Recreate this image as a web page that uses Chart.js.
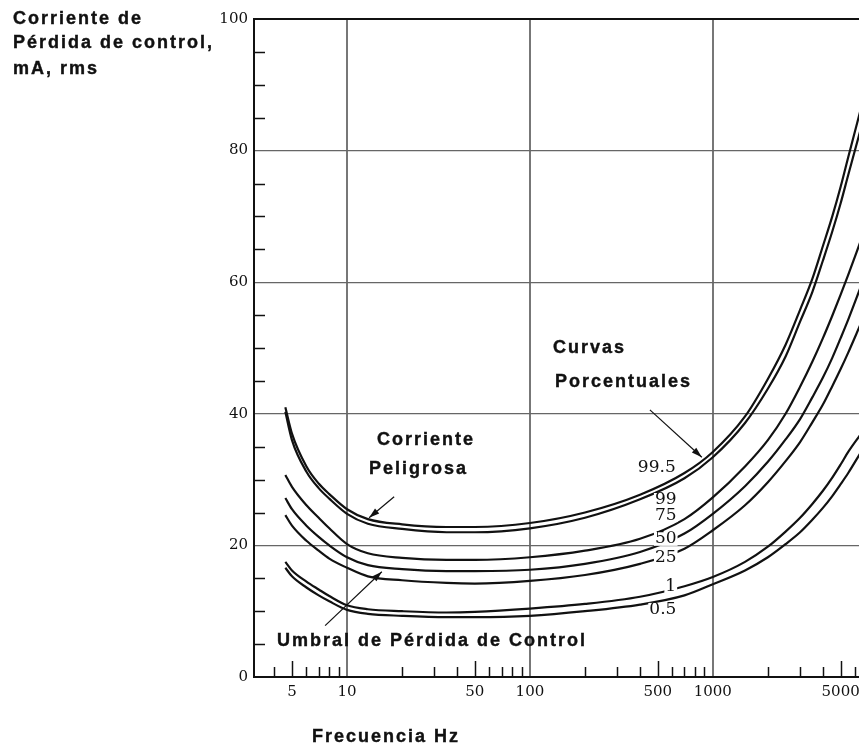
<!DOCTYPE html>
<html>
<head>
<meta charset="utf-8">
<title>Corriente de Pérdida de control</title>
<script src="https://cdn.jsdelivr.net/npm/chart.js@4.4.1/dist/chart.umd.min.js"></script>
<style>
  html, body { margin: 0; padding: 0; background: #fff; }
  #wrap { position: relative; width: 859px; height: 745px; }
</style>
</head>
<body>
<div id="wrap"><canvas id="myChart" width="859" height="745"></canvas></div>
<script>
// frequencies (Hz) where the curves were read
var freqs = [4.6, 5, 6, 7, 8, 10, 13, 20, 35, 50, 100, 200, 400, 700, 1000, 1500, 2000, 2500, 3000, 3500, 4000, 4500, 5000, 5500, 6400];

// current (mA rms) for each percentile curve
var p995 = [41, 37, 32, 29.4, 27.8, 25.5, 24, 23.2, 22.8, 22.8, 23.4, 25, 27.7, 31, 34.2, 39.6, 45.3, 50.5, 55.8, 60.5, 65.5, 70, 74.5, 79, 86];
var p99  = [40.3, 36, 31.2, 28.7, 27.1, 24.8, 23.3, 22.5, 22, 22, 22.6, 24.2, 27, 30.2, 33.4, 38.6, 43.8, 48.7, 54, 58.5, 63.3, 67.7, 72, 76.3, 83];
var p75  = [30.7, 28.9, 26.1, 24.2, 22.6, 20.2, 18.8, 18.1, 17.8, 17.8, 18.2, 19.2, 21, 24, 27.3, 32, 36, 40, 44.1, 47.9, 51.5, 54.9, 58.1, 61.1, 66.1];
var p50  = [27.2, 25.5, 23, 21.3, 20, 18.2, 17, 16.4, 16.1, 16.1, 16.3, 17.2, 19, 21.8, 24.8, 29, 32.7, 36.1, 39.2, 42.5, 45.5, 48.5, 51.5, 54.3, 59.1];
var p25  = [24.6, 23, 20.7, 19.2, 18, 16.6, 15.3, 14.7, 14.3, 14.2, 14.6, 15.5, 17.2, 19.5, 22.3, 26.1, 29.6, 32.8, 35.7, 38.7, 41.4, 44.2, 46.8, 49.3, 53.5];
var p1   = [17.5, 16.2, 14.5, 13.3, 12.3, 10.9, 10.3, 10, 9.8, 9.9, 10.4, 11.1, 12.2, 13.8, 15.2, 17.5, 19.8, 22.1, 24.2, 26.3, 28.3, 30.3, 32.3, 34.2, 36.8];
var p05  = [16.6, 15.3, 13.6, 12.4, 11.5, 10.2, 9.6, 9.3, 9.1, 9.1, 9.3, 10, 11, 12.4, 14.1, 16.2, 18.2, 20.2, 22, 23.9, 25.7, 27.5, 29.3, 31, 34];

var curveNames = ['99.5', '99', '75', '50', '25', '1', '0.5'];

// axis ticks
var xTickValues = [5, 10, 50, 100, 500, 1000, 5000];
var xGridValues = [10, 100, 1000];
var xMinorTicks = [4, 5, 6, 7, 8, 9, 20, 30, 40, 50, 60, 70, 80, 90, 200, 300, 400, 500, 600, 700, 800, 900, 2000, 3000, 4000, 5000, 6000];
var xLongTicks = [5, 50, 500, 5000];
var yTickValues = [0, 20, 40, 60, 80, 100];
var yMinorTicks = [5, 10, 15, 25, 30, 35, 45, 50, 55, 65, 70, 75, 85, 90, 95];

// where the curve names sit (freq, mA)
var curveLabelPos = [[494, 31.8], [553, 26.9], [553, 24.6], [553, 21.0], [553, 18.2], [589, 13.8], [533, 10.2]];

// text notes and arrows on the plot (freq, mA)
var notes = [
  { text: 'Curvas', at: [133.6, 49.2] },
  { text: 'Porcentuales', at: [137, 44.1] },
  { text: 'Corriente', at: [14.6, 35.3] },
  { text: 'Peligrosa', at: [13.2, 30.9] },
  { text: 'Umbral de Pérdida de Control', at: [4.14, 4.7] }
];
var arrows = [
  { from: [453, 40.6], to: [871, 33.4] },
  { from: [18.1, 27.4], to: [13.2, 24.2] },
  { from: [7.59, 7.8], to: [15.5, 16.0] }
];

function toPoints(vals) {
  return freqs.map(function (f, i) { return { x: f, y: vals[i] }; });
}

var series = [p995, p99, p75, p50, p25, p1, p05];
var datasets = series.map(function (vals, i) {
  return {
    label: curveNames[i],
    data: toPoints(vals),
    borderColor: '#111',
    borderWidth: 2.2,
    pointRadius: 0,
    fill: false,
    cubicInterpolationMode: 'monotone'
  };
});

var sansBold = 'bold 18px "Liberation Sans", Arial, sans-serif';

function boldText(ctx, txt, x, y) {
  ctx.fillText(txt, x, y);
  ctx.strokeText(txt, x, y);
}

var extras = {
  id: 'extras',
  afterDatasetsDraw: function (chart) {
    var ctx = chart.ctx, xs = chart.scales.x, ys = chart.scales.y, a = chart.chartArea;
    ctx.save();

    // minor ticks inside the plot
    ctx.strokeStyle = '#111';
    ctx.lineWidth = 1.5;
    xMinorTicks.forEach(function (v) {
      var px = Math.round(xs.getPixelForValue(v)) + 0.5;
      var len = xLongTicks.indexOf(v) >= 0 ? 16 : 10;
      ctx.beginPath(); ctx.moveTo(px, a.bottom); ctx.lineTo(px, a.bottom - len); ctx.stroke();
    });
    yMinorTicks.forEach(function (v) {
      var py = Math.round(ys.getPixelForValue(v)) + 0.5;
      ctx.beginPath(); ctx.moveTo(a.left, py); ctx.lineTo(a.left + 11, py); ctx.stroke();
    });

    // curve names, with a white patch so the line breaks
    ctx.font = '17px "DejaVu Serif", serif';
    ctx.textAlign = 'center';
    ctx.textBaseline = 'middle';
    curveNames.forEach(function (name, i) {
      var px = xs.getPixelForValue(curveLabelPos[i][0]);
      var py = ys.getPixelForValue(curveLabelPos[i][1]);
      var w = ctx.measureText(name).width;
      ctx.fillStyle = '#fff';
      ctx.fillRect(px - w / 2 - 1, py - 7, w + 2, 14);
      ctx.fillStyle = '#111';
      ctx.fillText(name, px, py);
    });

    // notes
    ctx.font = sansBold;
    ctx.letterSpacing = '2px';
    ctx.textAlign = 'left';
    ctx.textBaseline = 'alphabetic';
    ctx.fillStyle = '#111';
    ctx.lineWidth = 0.4;
    notes.forEach(function (n) {
      boldText(ctx, n.text, xs.getPixelForValue(n.at[0]), ys.getPixelForValue(n.at[1]));
    });

    // axis titles
    boldText(ctx, 'Corriente de', 13, 24);
    boldText(ctx, 'Pérdida de control,', 13, 48);
    boldText(ctx, 'mA, rms', 13, 74);
    boldText(ctx, 'Frecuencia Hz', 312, 742);

    // arrows
    ctx.lineWidth = 1.2;
    arrows.forEach(function (ar) {
      var x1 = xs.getPixelForValue(ar.from[0]), y1 = ys.getPixelForValue(ar.from[1]);
      var x2 = xs.getPixelForValue(ar.to[0]), y2 = ys.getPixelForValue(ar.to[1]);
      var ang = Math.atan2(y2 - y1, x2 - x1);
      ctx.beginPath(); ctx.moveTo(x1, y1); ctx.lineTo(x2, y2); ctx.stroke();
      ctx.beginPath();
      ctx.moveTo(x2, y2);
      ctx.lineTo(x2 - 11 * Math.cos(ang - 0.3), y2 - 11 * Math.sin(ang - 0.3));
      ctx.lineTo(x2 - 11 * Math.cos(ang + 0.3), y2 - 11 * Math.sin(ang + 0.3));
      ctx.closePath();
      ctx.fill();
    });

    ctx.restore();
  }
};

new Chart(document.getElementById('myChart'), {
  type: 'line',
  data: { datasets: datasets },
  options: {
    responsive: false,
    animation: false,
    events: [],
    layout: { padding: { top: 19, right: 0, bottom: 0, left: 0 } },
    plugins: { legend: { display: false }, tooltip: { enabled: false } },
    scales: {
      x: {
        type: 'logarithmic',
        min: 3.1,
        max: 6300,
        afterBuildTicks: function (scale) {
          scale.ticks = xTickValues.map(function (v) { return { value: v }; });
        },
        afterFit: function (scale) {
          scale.height = 68;
          scale.paddingLeft = 0;
          scale.paddingRight = 0;
        },
        ticks: {
          autoSkip: false,
          maxRotation: 0,
          padding: 6,
          color: '#111',
          font: { family: 'DejaVu Serif', size: 15 },
          callback: function (v) { return String(v); }
        },
        grid: {
          drawTicks: false,
          color: function (c) { return c.tick && xGridValues.indexOf(c.tick.value) >= 0 ? '#777' : 'rgba(0,0,0,0)'; },
          lineWidth: 2
        },
        border: { color: '#111', width: 2 }
      },
      y: {
        min: 0,
        max: 100,
        afterBuildTicks: function (scale) {
          scale.ticks = yTickValues.map(function (v) { return { value: v }; });
        },
        afterFit: function (scale) {
          scale.width = 254;
          scale.paddingTop = 0;
          scale.paddingBottom = 0;
        },
        ticks: {
          padding: 6,
          color: '#111',
          font: { family: 'DejaVu Serif', size: 15 },
          callback: function (v) { return String(v); }
        },
        grid: {
          drawTicks: false,
          color: function (c) { return c.tick && (c.tick.value === 100 || c.tick.value === 0) ? '#111' : '#666'; },
          lineWidth: function (c) { return c.tick && c.tick.value === 100 ? 2 : 1.3; }
        },
        border: { color: '#111', width: 2 }
      }
    }
  },
  plugins: [extras]
});
</script>
</body>
</html>
